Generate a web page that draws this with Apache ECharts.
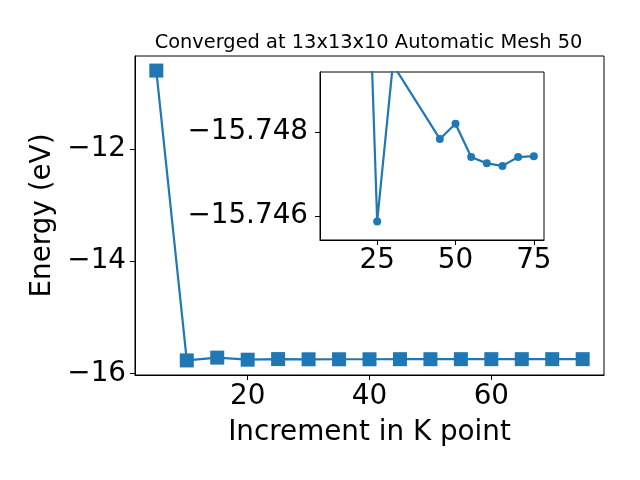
<!DOCTYPE html>
<html>
<head>
<meta charset="utf-8">
<script src="https://cdn.jsdelivr.net/npm/echarts@6/dist/echarts.min.js"></script>
<style>html,body{margin:0;padding:0;background:#fff}#c{width:640px;height:480px}</style>
</head>
<body>
<div id="c"></div>
<script>
// Main chart data
var kPoints = [5, 10, 15, 20, 25, 30, 35, 40, 45, 50, 55, 60, 65, 70, 75];
var energy = [-10.60, -15.77, -15.72, -15.757, -15.7459, -15.7496, -15.7494, -15.7493, -15.7478, -15.7482, -15.7474, -15.7472, -15.7472, -15.7474, -15.7474];
// Inset data
var insetK = [20, 25, 30, 45, 50, 55, 60, 65, 70, 75];
var insetE = [-15.757, -15.74587, -15.7496, -15.74783, -15.74819, -15.7474, -15.74725, -15.74719, -15.7474, -15.74742];
// Tick labels
var mainXTicks = [20, 40, 60];
var mainYTicks = [-16, -14, -12];
var insetXTicks = [25, 50, 75];
var insetYTicks = [-15.748, -15.746];

var FONT = 'DejaVu Sans';
var BLUE = '#1f77b4';
function minus(s){ return s.replace('-', '\u2212'); }

var chart = echarts.init(document.getElementById('c'), null, {renderer: 'canvas'});
var axisCommon = {
  axisLine: {show: true, onZero: false, lineStyle: {color: '#000', width: 1}},
  axisTick: {show: true, inside: false, length: 5, lineStyle: {color: '#000', width: 1}},
  splitLine: {show: false}
};
chart.setOption({
  animation: false,
  backgroundColor: '#fff',
  title: {
    text: 'Converged at 13x13x10 Automatic Mesh 50',
    left: 363.5, textAlign: 'center', top: 28,
    textStyle: {fontFamily: FONT, fontSize: 19.4, fontWeight: 'normal', color: '#000'}
  },
  grid: [
    {left: 135, top: 56, width: 469, height: 319, show: true, borderColor: '#000', borderWidth: 1, backgroundColor: '#fff'},
    {left: 320, top: 72, width: 224, height: 168, show: true, borderColor: '#000', borderWidth: 1, backgroundColor: '#fff', z: 5}
  ],
  xAxis: [
    Object.assign({}, axisCommon, {
      gridIndex: 0, type: 'value', min: 1.5, max: 78.5,
      name: 'Increment in K point', nameLocation: 'middle', nameGap: 44,
      nameTextStyle: {fontFamily: FONT, fontSize: 27.8, color: '#000'},
      axisTick: {show: true, length: 5, customValues: mainXTicks, lineStyle: {color: '#000'}},
      axisLabel: {customValues: mainXTicks, fontFamily: FONT, fontSize: 27.8, color: '#000', margin: 8}
    }),
    Object.assign({}, axisCommon, {
      gridIndex: 1, type: 'value', min: 6.75, max: 78.25, z: 6,
      axisTick: {show: true, length: 5, customValues: insetXTicks, lineStyle: {color: '#000'}},
      axisLabel: {customValues: insetXTicks, fontFamily: FONT, fontSize: 27.8, color: '#000', margin: 7}
    })
  ],
  yAxis: [
    Object.assign({}, axisCommon, {
      gridIndex: 0, type: 'value', min: -16.03, max: -10.34,
      name: 'Energy (eV)', nameLocation: 'middle', nameGap: 75, nameRotate: 90,
      nameTextStyle: {fontFamily: FONT, fontSize: 27.8, color: '#000'},
      axisTick: {show: true, length: 5, customValues: mainYTicks, lineStyle: {color: '#000'}},
      axisLabel: {customValues: mainYTicks, fontFamily: FONT, fontSize: 27.8, color: '#000', margin: 9,
        formatter: function(v){ return minus(String(Math.round(v))); }}
    }),
    Object.assign({}, axisCommon, {
      gridIndex: 1, type: 'value', min: -15.74942, max: -15.74543, inverse: true, z: 6,
      axisTick: {show: true, length: 5, customValues: insetYTicks, lineStyle: {color: '#000'}},
      axisLabel: {customValues: insetYTicks, fontFamily: FONT, fontSize: 27.8, color: '#000', margin: 12,
        formatter: function(v){ return minus(v.toFixed(3)); }}
    })
  ],
  series: [
    {
      type: 'line', xAxisIndex: 0, yAxisIndex: 0,
      data: kPoints.map(function(k, i){ return [k, energy[i]]; }),
      symbol: 'rect', symbolSize: 14, showAllSymbol: true,
      lineStyle: {color: BLUE, width: 2.2}, itemStyle: {color: BLUE}, clip: true
    },
    {
      type: 'line', xAxisIndex: 1, yAxisIndex: 1, z: 7,
      data: insetK.map(function(k, i){ return [k, insetE[i]]; }),
      symbol: 'circle', symbolSize: 8, showAllSymbol: true,
      lineStyle: {color: BLUE, width: 2.2}, itemStyle: {color: BLUE}, clip: true
    }
  ]
});
</script>
</body>
</html>
